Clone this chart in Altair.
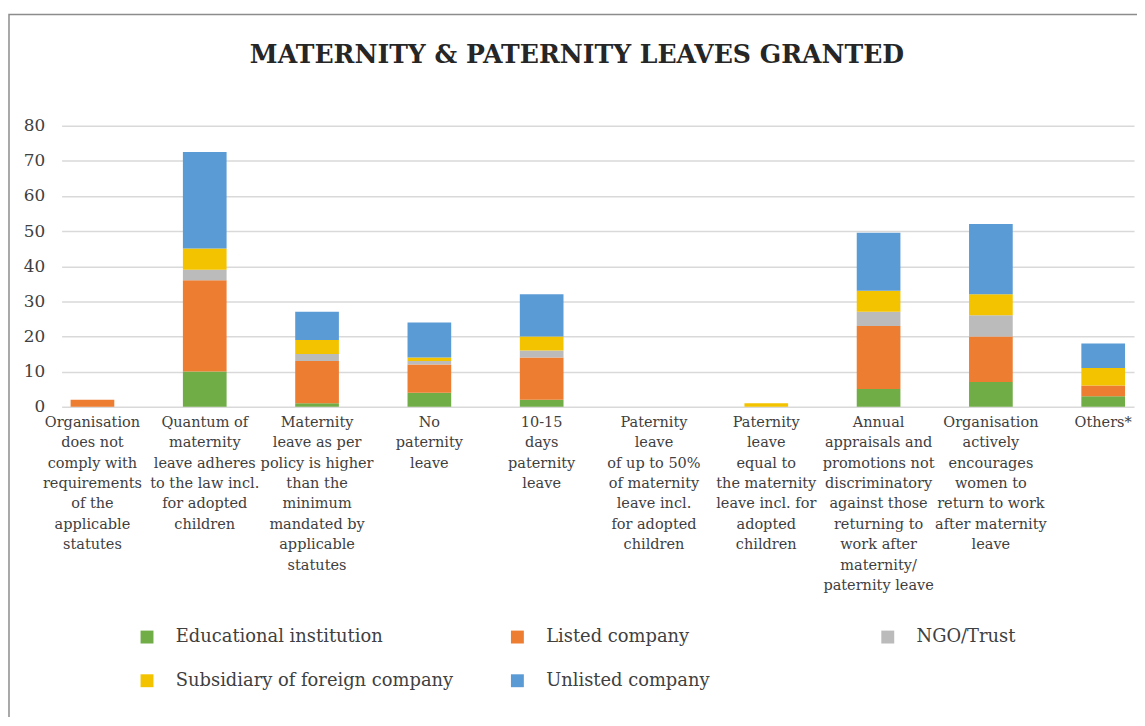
import altair as alt
import pandas as pd

categories = [
    "Organisation|does not|comply with|requirements|of the|applicable|statutes",
    "Quantum of|maternity|leave adheres|to the law incl.|for adopted|children",
    "Maternity|leave as per|policy is higher|than the|minimum|mandated by|applicable|statutes",
    "No|paternity|leave",
    "10-15|days|paternity|leave",
    "Paternity|leave|of up to 50%|of maternity|leave incl.|for adopted|children",
    "Paternity|leave|equal to|the maternity|leave incl. for|adopted|children",
    "Annual|appraisals and|promotions not|discriminatory|against those|returning to|work after|maternity/|paternity leave",
    "Organisation|actively|encourages|women to|return to work|after maternity|leave",
    "Others*",
]

series_names = [
    "Educational institution",
    "Listed company",
    "NGO/Trust",
    "Subsidiary of foreign company",
    "Unlisted company",
]
series_colors = ["#70AD47", "#ED7D31", "#BBBBBB", "#F3C300", "#5B9BD5"]

educational = [0, 10, 1, 4, 2, 0, 0, 5, 7, 3]
listed = [2, 26, 12, 8, 12, 0, 0, 18, 13, 3]
ngo = [0, 3, 2, 1, 2, 0, 0, 4, 6, 0]
subsidiary = [0, 6, 4, 1, 4, 0, 1, 6, 6, 5]
unlisted = [0, 27.5, 8, 10, 12, 0, 0, 16.5, 20, 7]

series_values = [educational, listed, ngo, subsidiary, unlisted]

title_text = ["MATERNITY & PATERNITY LEAVES GRANTED"]

rows = []
for si, (name, vals) in enumerate(zip(series_names, series_values)):
    for cat, v in zip(categories, vals):
        rows.append({"category": cat, "series": name, "value": v, "order": si})
df = pd.DataFrame(rows)

FONT = "DejaVu Serif"

bars = alt.Chart(df).mark_bar().encode(
    x=alt.X(
        "category:N",
        sort=categories,
        title=None,
        scale=alt.Scale(paddingInner=0.611, paddingOuter=0.08),
        axis=alt.Axis(
            labelAngle=0,
            labelExpr="split(datum.label, '|')",
            labelFont=FONT,
            labelFontSize=14.6,
            labelLineHeight=20.5,
            labelColor="#404040",
            labelBaseline="top",
            labelPadding=8,
            labelLimit=200,
            ticks=False,
            domain=False,
            grid=False,
        ),
    ),
    y=alt.Y(
        "value:Q",
        title=None,
        stack="zero",
        scale=alt.Scale(domain=[0, 80], nice=False),
        axis=alt.Axis(
            values=[0, 10, 20, 30, 40, 50, 60, 70, 80],
            labelFont=FONT,
            labelFontSize=17,
            labelColor="#404040",
            labelPadding=17,
            ticks=False,
            domain=False,
            grid=True,
            gridColor="#D9D9D9",
            gridWidth=1.5,
        ),
    ),
    color=alt.Color(
        "series:N",
        sort=series_names,
        scale=alt.Scale(domain=series_names, range=series_colors),
        legend=alt.Legend(
            title=None,
            orient="none",
            legendX=77,
            legendY=506,
            direction="horizontal",
            columns=3,
            gridAlign="all",
            columnPadding=55,
            rowPadding=26,
            symbolType="square",
            symbolSize=169,
            symbolStrokeWidth=0,
            symbolOpacity=1,
            labelFont=FONT,
            labelFontSize=18,
            labelColor="#404040",
            labelOffset=20,
            labelLimit=400,
        ),
    ),
    order=alt.Order("order:Q", sort="ascending"),
)

frame = alt.Chart(pd.DataFrame({"a": [0]})).mark_rect(
    fill=None, stroke="#8C8C8C", strokeWidth=1.5, clip=False
).encode(
    x=alt.value(-53),
    x2=alt.value(1100),
    y=alt.value(-112),
    y2=alt.value(700),
)

title = alt.Chart(pd.DataFrame({"t": title_text})).mark_text(
    font=FONT,
    fontSize=25.3,
    fontWeight="bold",
    color="#262626",
    align="center",
    baseline="alphabetic",
).encode(
    text="t:N",
    x=alt.value(519),
    y=alt.value(-63),
)

chart = alt.layer(frame, title, bars).properties(
    width=1080,
    height=283,
    autosize=alt.AutoSizeParams(type="none"),
    padding={"left": 54, "top": 116, "right": 3, "bottom": 310},
).configure_view(stroke=None)

chart.save("out.html", embed_options={"renderer": "svg", "actions": False})
